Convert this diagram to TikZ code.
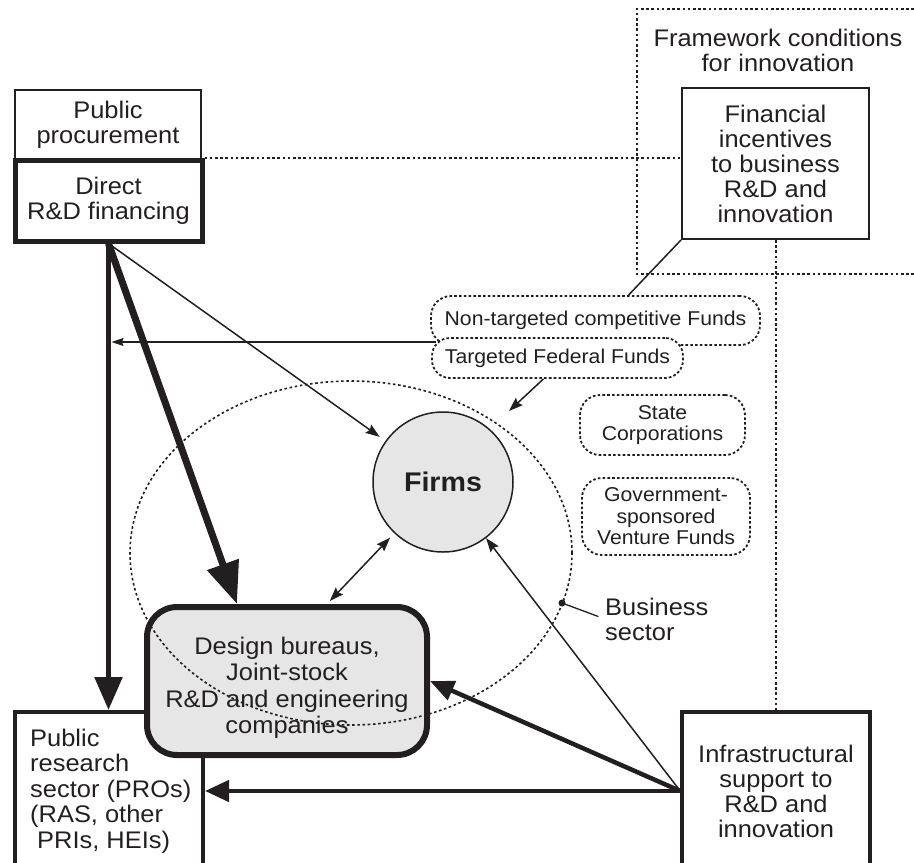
\documentclass[tikz,border=0pt]{standalone}
\usepackage{fontspec}
\setmainfont{Liberation Sans}[FakeStretch=1.06]
\usetikzlibrary{arrows.meta,calc}
\definecolor{ink}{HTML}{231F20}
\definecolor{boxgray}{HTML}{E6E6E6}
\begin{document}
\begin{tikzpicture}[x=1pt,y=-1pt,
  every node/.style={font=\fontsize{24}{25}\selectfont, text=ink},
  box/.style={draw=ink, rectangle, inner sep=0pt, align=center},
  fund/.style={draw=ink, dash pattern=on 2.6pt off 2.2pt, line width=1.8pt,
    rounded corners=20pt, inner sep=0pt, align=center,
    font=\fontsize{20}{21.5}\selectfont},
  dots/.style={draw=ink, dash pattern=on 2.6pt off 2.6pt, line width=2pt},
  thinarr/.style={draw=ink, line width=1.5pt,
    -{Stealth[length=14pt,width=10pt,inset=2pt]}},
]
\useasboundingbox (0,0) rectangle (914,863);

% framework region (open to the right)
\draw[dots] (914,9) -| (637,274) -- (914,274);
\node[align=center] (fwtext) at (778,50.5) {Framework conditions\\for innovation};

% boxes on the left
\node[box, line width=2pt, minimum width=186pt, minimum height=69pt]
  (pp) at (108,124.5) {Public\\procurement};
\node[box, line width=5pt, minimum width=187pt, minimum height=81pt, fill=white]
  (drd) at (108.5,200.5) {Direct\\R\&D financing};

% financial incentives
\node[box, line width=2pt, minimum width=187pt, minimum height=151pt]
  (fin) at (775.5,163.5) {Financial\\incentives\\to business\\R\&D and\\innovation};

% funds and state instruments
\node[fund, minimum width=329pt, minimum height=49pt]
  (nontgt) at (595.5,320.5) {Non-targeted competitive Funds};
\node[fund, minimum width=251pt, minimum height=40pt, rounded corners=18pt, fill=white]
  (tgt) at (557.5,358) {Targeted Federal Funds};
\node[fund, minimum width=165pt, minimum height=60pt]
  (state) at (662.5,425) {State\\Corporations};
\node[fund, minimum width=168pt, minimum height=77pt]
  (venture) at (666,516.5) {Government-\\sponsored\\Venture Funds};

% bottom boxes
\node[draw=ink, line width=4pt, minimum width=188pt, minimum height=158pt, inner sep=0pt]
  (prs) at (109,791) {};
\node[align=left, inner sep=0pt, anchor=west, font=\fontsize{24}{25.5}\selectfont]
  (prstext) at (30,791) {Public\\research\\sector (PROs)\\(RAS, other\\\hspace*{7pt}PRIs, HEIs)};
\node[box, line width=3.5pt, minimum width=188pt, minimum height=158pt]
  (infra) at (776,791) {Infrastructural\\support to\\R\&D and\\innovation};

% business sector actors
\node[circle, draw=ink, line width=1.5pt, fill=boxgray, minimum size=140pt,
  inner sep=0pt, font=\fontsize{27}{28}\selectfont\bfseries]
  (firms) at (443,482) {Firms};
\node[draw=ink, line width=6pt, fill=boxgray, rounded corners=30pt,
  minimum width=280pt, minimum height=148pt, inner sep=0pt]
  (dsn) at (287,681) {};
\node[align=center, font=\fontsize{24}{26.5}\selectfont]
  (dsntext) at (287,688) {Design bureaus,\\Joint-stock\\R\&D and engineering\\companies};

% business sector boundary
\draw[dots, line width=1.6pt] (351,553) ellipse [x radius=221pt, y radius=172pt];
\coordinate (bsdot) at (562,603);
\fill[ink] (bsdot) circle (3.5pt);
\node[anchor=west, align=left, inner sep=0pt] (bslabel) at (605,619) {Business\\sector};
\draw[ink, line width=1.3pt, shorten >=7pt] (bsdot) -- (bslabel.west);

% dotted links of the framework
\draw[dots] (drd.north east) -- (drd.north east -| fin.west);
\draw[dots] (fin.south) -- (fin.south |- infra.north);
\draw[ink, line width=1.5pt] (fin.south west) -- ([xshift=33pt]nontgt.north);

% flows from direct financing
\draw[line width=5.5pt, draw=ink, -{Triangle[length=33pt,width=27pt]}]
  (drd.south) -- (drd.south |- prs.north);
\draw[line width=7pt, draw=ink, -{Triangle[length=42pt,width=32pt]}]
  (drd.south) -- ([xshift=-50pt]dsn.north);
\draw[thinarr, shorten >=7pt] (drd.south) -- (firms);

% flows from the funds
\coordinate (fundsjoin) at (436,342);
\draw[ink, line width=1.3pt, shorten >=3pt,
  -{Stealth[length=12pt,width=8pt,inset=1.5pt]}]
  (fundsjoin) -- (fundsjoin -| drd.south);
\coordinate (tfend) at (509,411);
\draw[thinarr] ([xshift=-14pt]tgt.south) -- (tfend);

% firms and design bureaus
\draw[thinarr, {Stealth[length=14pt,width=10pt,inset=2pt]}-{Stealth[length=14pt,width=10pt,inset=2pt]},
  shorten <=6pt, shorten >=4pt] (firms) -- ([xshift=40pt]dsn.north);

% flows from infrastructural support
\draw[line width=4.5pt, draw=ink, -{Triangle[length=24pt,width=21pt]}]
  (infra.west) -- (infra.west -| prs.east);
\draw[line width=4.5pt, draw=ink, -{Triangle[length=24pt,width=20pt]}]
  (infra.west) -- (dsn.east);
\draw[thinarr] (infra.west) -- (firms);
\end{tikzpicture}
\end{document}
